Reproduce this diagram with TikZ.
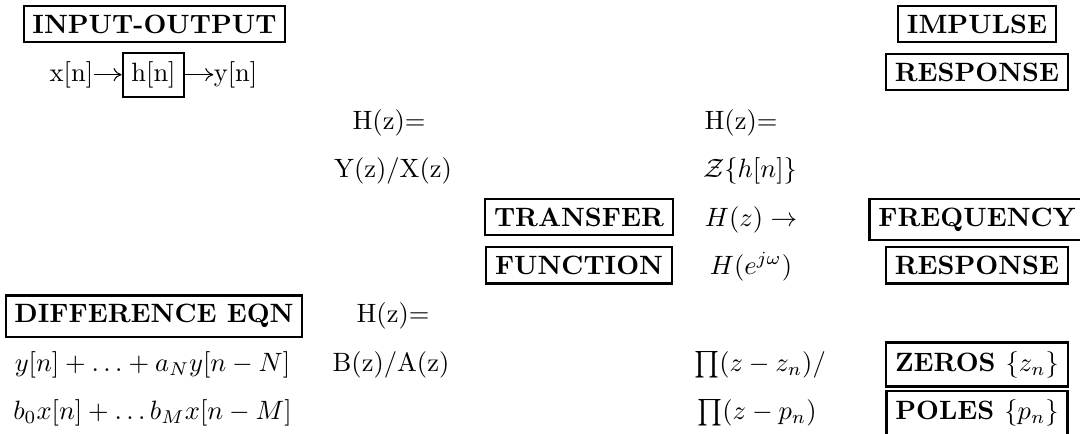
\documentclass[tikz,border=0pt]{standalone}
\usetikzlibrary{arrows.meta}
\begin{document}
\begin{tikzpicture}[x=0.3774pt,y=-0.3774pt,
  lbl/.style={draw, line width=0.85pt, inner sep=3.3pt, font=\bfseries, anchor=base},
  hbox/.style={draw, line width=0.85pt, inner sep=3.3pt, anchor=base},
  txt/.style={inner sep=0pt, anchor=base},
  arr/.style={-{To[length=3pt,width=5pt]}, line width=0.4pt}]
\useasboundingbox (0,0) rectangle (1080,433);
\clip (0,0) rectangle (1080,433);
% column A
\node[lbl] (io) at (154.5,33.3) {INPUT-OUTPUT};
\node[hbox] (hn) at (153.5,81.3) {h[n]};
\node[txt, anchor=base east] (xn) at ([xshift=-10.5pt]hn.base west) {x[n]};
\node[txt, anchor=base west] (yn) at ([xshift=10.5pt]hn.base east) {y[n]};
\draw[arr] ([yshift=2.5pt]xn.base east) -- ([yshift=2.5pt]hn.base west);
\draw[arr] ([yshift=2.5pt]hn.base east) -- ([yshift=2.5pt]yn.base west);
\node[lbl] (de) at (154,322.8) {DIFFERENCE EQN};
\node[txt] (dy) at (152.5,371.1) {$y[n]+\ldots+a_Ny[n-N]$};
\node[txt] (db) at (152.5,419.4) {$b_0x[n]+\ldots b_Mx[n-M]$};
% column B
\node[txt] (h1) at (389,129.6) {H(z)=};
\node[txt] (yx) at (393,177.9) {Y(z)/X(z)};
\node[txt] (h2) at (393,322.8) {H(z)=};
\node[txt] (ba) at (391,371.1) {B(z)/A(z)};
% column C
\node[lbl] (tf) at (579,226.2) {TRANSFER};
\node[lbl] (fn) at (579,274.5) {FUNCTION};
% column D
\node[txt] (h3) at (741,129.6) {H(z)=};
\node[txt] (zh) at (750,177.9) {$\mathcal{Z}\{h[n]\}$};
\node[txt] (hz) at (751,226.2) {$H(z)\rightarrow$};
\node[txt] (he) at (751,274.5) {$H(e^{j\omega})$};
\node[txt] (pz) at (760,371.1) {$\prod(z-z_n)/$};
\node[txt] (pp) at (757,419.4) {$\prod(z-p_n)$};
% column E
\node[lbl] (im) at (977,33.3) {IMPULSE};
\node[lbl] (r1) at (977,81.3) {RESPONSE};
\node[lbl] (fr) at (977,226.2) {FREQUENCY};
\node[lbl] (r2) at (977,274.5) {RESPONSE};
\node[lbl] (ze) at (977,371.1) {ZEROS $\{z_n\}$};
\node[lbl] (po) at (977,419.4) {POLES $\{p_n\}$};
\end{tikzpicture}
\end{document}
